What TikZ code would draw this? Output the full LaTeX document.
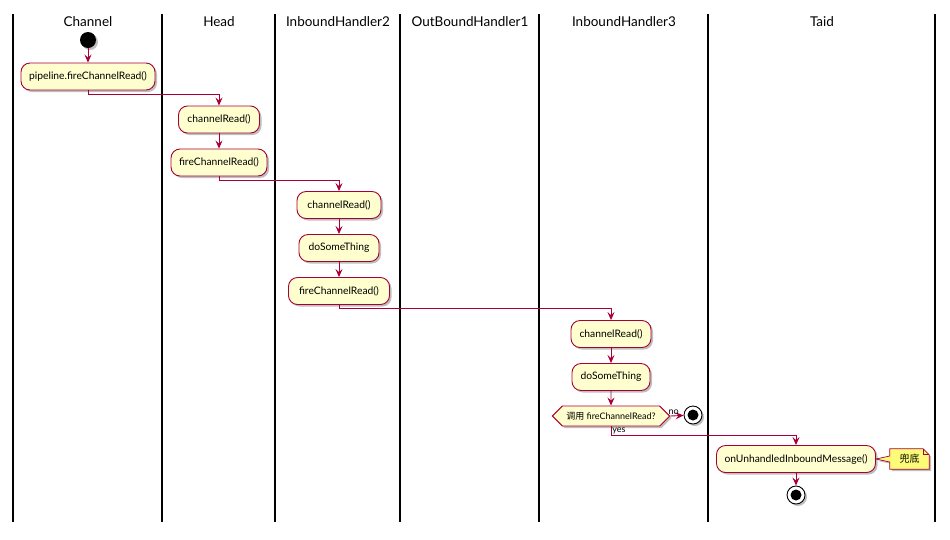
\documentclass[tikz,border=0pt]{standalone}
\usepackage{fontspec}
\setmainfont{Lato}
\newfontfamily\cjk{Noto Sans CJK SC}
\usetikzlibrary{shapes.symbols,shadows,arrows.meta,backgrounds}
\definecolor{umlred}{HTML}{A80036}
\definecolor{umlbox}{HTML}{FEFECE}
\definecolor{umlnote}{HTML}{FBFB77}
\tikzset{
	shade/.style={drop shadow={shadow xshift=2pt, shadow yshift=-2pt, opacity=0.25, fill=black}},
	act/.style={draw=umlred, fill=umlbox, line width=0.9pt, rounded corners=9pt, minimum height=27pt, inner xsep=6pt, font=\fontsize{10.3}{12}\selectfont, shade},
	choice/.style={draw=umlred, fill=umlbox, line width=0.9pt, signal, signal to=west and east, signal pointer angle=90, minimum height=20pt, inner xsep=4pt, inner ysep=2pt, font=\fontsize{9}{11}\selectfont, shade},
	flow/.style={draw=umlred, line width=0.9pt, -{Stealth[length=8pt, width=7pt, inset=3pt]}},
	lane/.style={black, line width=1.4pt},
	title/.style={font=\fontsize{13.5}{16}\selectfont},
	startdot/.style={circle, fill=black, minimum size=16pt, inner sep=0pt, shade},
	stopdot/.style={circle, draw=black, line width=0.9pt, fill=white, minimum size=18pt, inner sep=0pt, shade,
		path picture={\fill[black] (path picture bounding box.center) circle (5.5pt);}},
	guard/.style={font=\fontsize{9}{10}\selectfont, inner sep=1pt},
	notetext/.style={font=\fontsize{10}{12}\selectfont, minimum width=39pt, minimum height=20pt, inner sep=0pt},
	notebox/.style={draw=umlred, fill=umlnote, line width=0.7pt, shade}
}
\begin{document}
\begin{tikzpicture}[x=1pt, y=-1pt]
	\useasboundingbox (0,0) rectangle (950,539);
	% Lanes
	\foreach \x in {13,162,275,400,539,708,935}
		\draw[lane] (\x,14) -- (\x,522);
	\foreach \x/\name in {88/Channel,219/Head,338/InboundHandler2,470/OutBoundHandler1,624/InboundHandler3,822/Taid}
		\node[title] (t-\name) at (\x,22) {\name};

	% Channel
	\node[startdot] (start) at (88,40) {};
	\node[act, minimum width=134pt] (pipe) at (88,76.5) {pipeline.fireChannelRead()};
	% Head
	\node[act, minimum width=81pt] (h-read) at (219,119.5) {channelRead()};
	\node[act, minimum width=96pt] (h-fire) at (219,162.5) {fireChannelRead()};
	% InboundHandler2
	\node[act, minimum width=84pt] (ib2-read) at (339,205) {channelRead()};
	\node[act, minimum width=80pt] (ib2-do) at (339,248) {doSomeThing};
	\node[act, minimum width=101pt] (ib2-fire) at (339,291) {fireChannelRead()};
	% InboundHandler3
	\node[act, minimum width=80pt] (ib3-read) at (611,334) {channelRead()};
	\node[act, minimum width=78pt] (ib3-do) at (611,377) {doSomeThing};
	\node[choice, minimum width=110pt] (ask) at (611,416) {{\cjk 调用} fireChannelRead?};
	\node[stopdot] (stop1) at (693,415) {};
	% Taid
	\node[act, minimum width=159pt] (unh) at (796,459) {onUnhandledInboundMessage()};
	\node[stopdot] (stop2) at (796,495) {};
	\node[notetext] (note) at (909.5,459) {\cjk 兜底};

	% Flow
	\draw[flow] (start) -- (pipe);
	\draw[flow] (pipe.south) -- ++(0,4) -| (h-read.north);
	\draw[flow] (h-read) -- (h-fire);
	\draw[flow] (h-fire.south) -- ++(0,3.5) -| (ib2-read.north);
	\draw[flow] (ib2-read) -- (ib2-do);
	\draw[flow] (ib2-do) -- (ib2-fire);
	\draw[flow] (ib2-fire.south) -- ++(0,3.5) -| (ib3-read.north);
	\draw[flow] (ib3-read) -- (ib3-do);
	\draw[flow] (ib3-do) -- (ask);
	\draw[flow] (ask.east) -- node[guard, above, pos=0.25] {no} (stop1);
	\draw[flow] (ask.south) -- ++(0,9) node[guard, anchor=south west] {yes} -| (unh.north);
	\draw[flow] (unh) -- (stop2);

	% Note
	\begin{scope}[on background layer]
		\filldraw[notebox] (note.north west) -- ([yshift=3pt]note.west) -- (unh.east)
			-- ([yshift=-3pt]note.west) -- (note.south west) -- (note.south east)
			-- ([yshift=-6pt]note.north east) -- ([xshift=-6pt]note.north east) -- cycle;
		\draw[umlred, line width=0.7pt] ([xshift=-6pt]note.north east) |- ([yshift=-6pt]note.north east);
	\end{scope}
\end{tikzpicture}
\end{document}
